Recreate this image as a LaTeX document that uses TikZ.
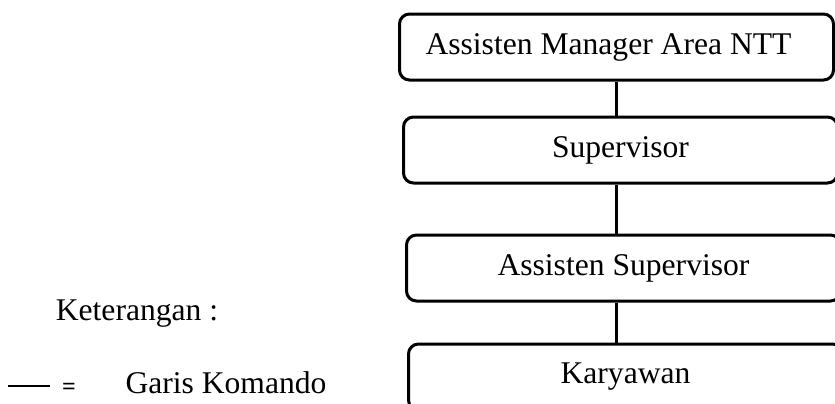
\documentclass[tikz,border=0pt]{standalone}
\usepackage{fontspec}
\setmainfont{Liberation Serif}
\usetikzlibrary{positioning}
\tikzset{kotak/.style={draw, line width=1.5pt, rounded corners=5pt, minimum width=217pt, minimum height=33pt, inner sep=0pt, font=\fontsize{15.8}{19}\selectfont}}
\tikzset{garis/.style={line width=1.5pt}}
\tikzset{teks/.style={draw=none, inner sep=0pt, font=\fontsize{15.8}{19}\selectfont}}

\begin{document}
\begin{tikzpicture}[
                x=0.5pt, y=-0.5pt
            ]
                \useasboundingbox (0,0) rectangle (835,403);
                \clip (0,0) rectangle (835,403);
                \node[kotak](amnt) at (616.5,47) {Assisten Manager Area NTT\hspace*{8pt}};
                \node[kotak, below= 17pt of amnt, xshift=2pt] (spv) {Supervisor};
                \node[kotak, below= 24.5pt of spv, xshift=1.5pt] (aspv) {Assisten Supervisor};
                \node[kotak, below= 20pt of aspv, xshift=1pt] (kry) {Karyawan};

                \draw[garis] (amnt.south) -- (amnt.south |- spv.north);
                \draw[garis] (amnt.south |- spv.south) -- (amnt.south |- aspv.north);
                \draw[garis] (amnt.south |- aspv.south) -- (amnt.south |- kry.north);

                % keterangan
                \node[teks] (ket) at (137,314) {Keterangan :};
                \coordinate (ga) at (8,386);
                \coordinate (gb) at (50,386);
                \draw[line width=1pt] (ga) -- (gb);
                \node[teks, font=\fontsize{12}{14}\selectfont\bfseries] (sama) at (69,389) {=};
                \node[teks] (komando) at (226,383) {Garis Komando};
            \end{tikzpicture}
\end{document}
